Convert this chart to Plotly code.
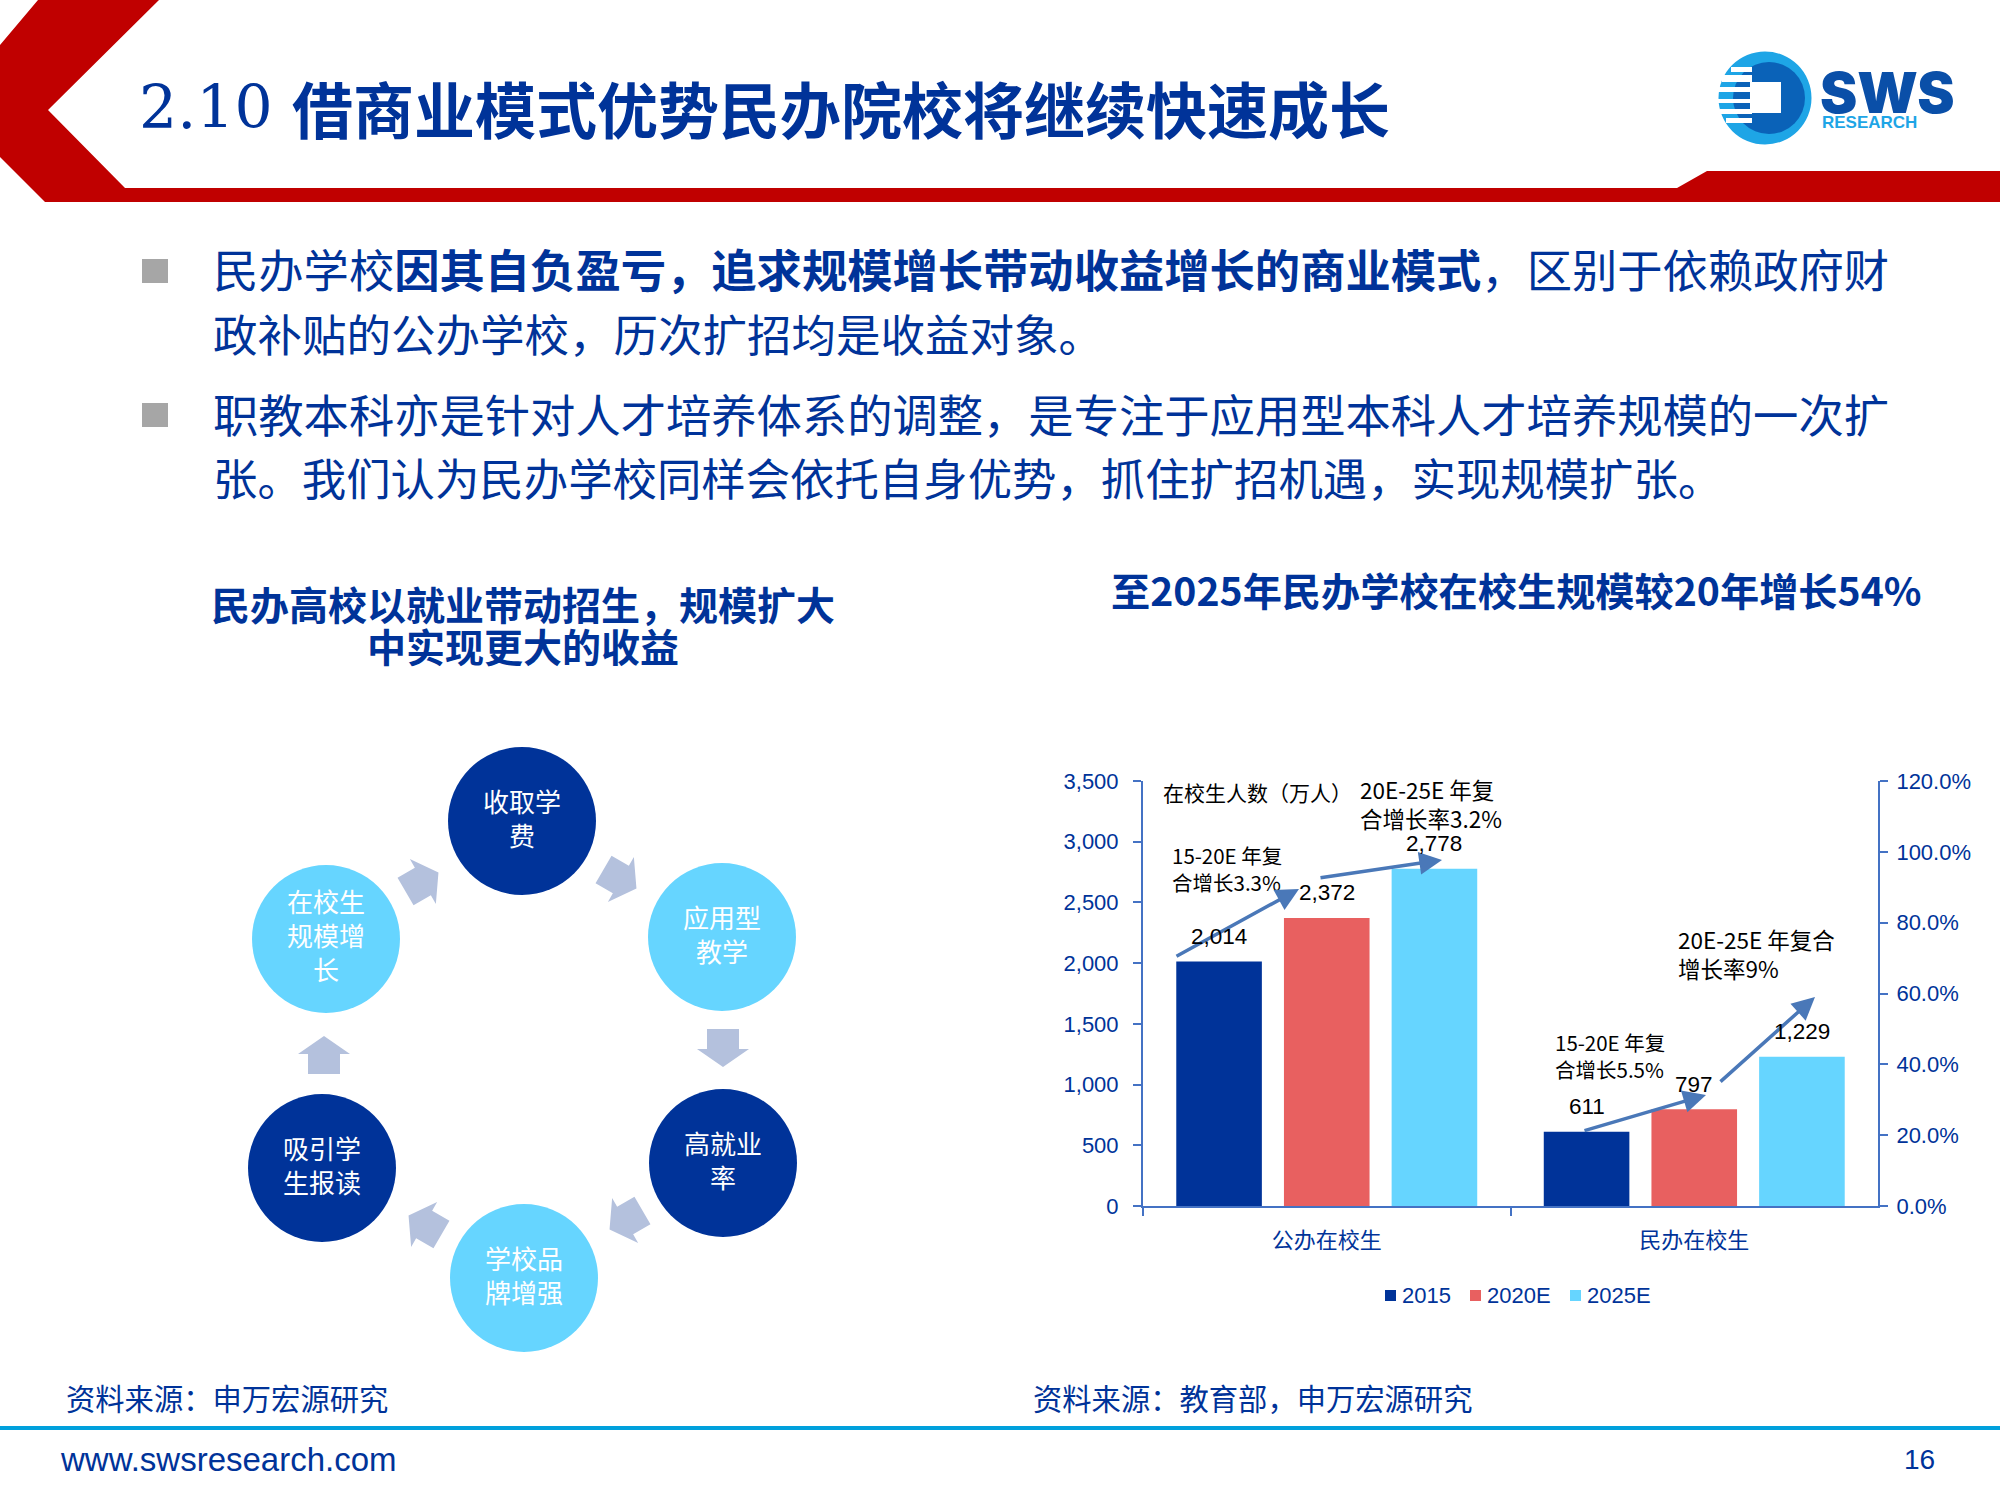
import math
import plotly.graph_objects as go

W, H = 2000, 1500
NAVY = "#003399"
CJK = "Noto Sans CJK SC"
LATIN = "Liberation Sans, Noto Sans CJK SC"

# chart data
categories = ["公办在校生", "民办在校生"]
years = ["2015", "2020E", "2025E"]
students_2015 = [2014, 611]
students_2020 = [2372, 797]
students_2025 = [2778, 1229]
bar_colors = ["#003399", "#E86060", "#66D5FF"]
left_ticks = [0, 500, 1000, 1500, 2000, 2500, 3000, 3500]
right_ticks = [0, 0.2, 0.4, 0.6, 0.8, 1.0, 1.2]

# cycle diagram
node_labels = ["收取学<br>费", "应用型<br>教学", "高就业<br>率", "学校品<br>牌增强", "吸引学<br>生报读", "在校生<br>规模增<br>长"]
node_colors = ["#003399", "#66D5FF", "#003399", "#66D5FF", "#003399", "#66D5FF"]
node_x = [522, 722, 723, 524, 322, 326]
node_y = [821, 937, 1163, 1278, 1168, 939]
arrow_x = [620, 723, 626, 425, 324, 422]
arrow_y = [879, 1048, 1220, 1225, 1055, 882]
arrow_deg = [30, 90, 150, 210, 270, 330]

# legend swatch and text positions on the page
legend_x = [1385, 1470, 1570]


def px(x):
    return x / W


def py(y):
    return 1 - y / H


def poly(points, color):
    path = "M" + "L".join(f"{px(x):.5f},{py(y):.5f}" for x, y in points) + "Z"
    return dict(type="path", xref="paper", yref="paper", path=path, fillcolor=color, line=dict(width=0), layer="below")


def circle(cx, cy, r, color):
    return dict(type="circle", xref="paper", yref="paper", x0=px(cx - r), x1=px(cx + r), y0=py(cy + r), y1=py(cy - r),
                fillcolor=color, line=dict(width=0), layer="below")


def rect(x0, y0, x1, y1, color):
    return dict(type="rect", xref="paper", yref="paper", x0=px(x0), x1=px(x1), y0=py(y1), y1=py(y0),
                fillcolor=color, line=dict(width=0), layer="below")


def label(x, y, text, size, color="black", family=CJK, xanchor="left", align="left", weight=None):
    font = dict(size=size, color=color, family=family)
    if weight:
        font["weight"] = weight
    return dict(xref="paper", yref="paper", x=px(x), y=py(y), text=text, showarrow=False, xanchor=xanchor, yanchor="middle",
                align=align, font=font, borderpad=0, borderwidth=0)


def block_arrow(cx, cy, deg):
    # shape drawn pointing right, then turned around its centre
    outline = [(-19, -16), (1, -16), (1, -26), (19, 0), (1, 26), (1, 16), (-19, 16)]
    a = math.radians(deg)
    pts = [(cx + u * math.cos(a) - v * math.sin(a), cy + u * math.sin(a) + v * math.cos(a)) for u, v in outline]
    return poly(pts, "#B4C1DD")


def trend_arrow(x0, y0, x1, y1):
    return dict(xref="paper", yref="paper", x=px(x1), y=py(y1), ax=x0 - x1, ay=y0 - y1, axref="pixel", ayref="pixel",
                text="", showarrow=True, arrowhead=2, arrowsize=1.3, arrowwidth=3.5, arrowcolor="#4A78B8")


fig = go.Figure()
for year, values, color in zip(years, [students_2015, students_2020, students_2025], bar_colors):
    fig.add_trace(go.Bar(x=categories, y=values, name=year, marker_color=color, marker_line_width=0, showlegend=False))

# keeps the empty percentage axis on the page
fig.add_trace(go.Scatter(x=categories, y=[None, None], yaxis="y2", showlegend=False, hoverinfo="skip"))

shapes = [
    poly([(38, 0), (159, 0), (48, 110), (125, 188), (1677, 188), (1707, 171), (2000, 171), (2000, 202), (45, 202), (0, 157), (0, 45)], "#C00000"),
    rect(0, 1426, 2000, 1430, "#00A0DC"),
    rect(142, 259, 168, 283, "#A6A6A6"),
    rect(142, 403, 168, 427, "#A6A6A6"),
    # logo
    circle(1765, 98, 46.5, "#1EA5E6"),
    circle(1769, 98, 36, "#0A62B8"),
]
for y0, y1, x0 in [(67, 72, 1731), (75, 82, 1722), (87, 92, 1718), (99, 103, 1718), (109, 114, 1720), (118, 123, 1726)]:
    shapes.append(rect(x0, y0, 1752, y1, "#FFFFFF"))
shapes.append(rect(1750, 82, 1781, 113, "#FFFFFF"))

for cx, cy, color in zip(node_x, node_y, node_colors):
    shapes.append(circle(cx, cy, 74, color))
for cx, cy, deg in zip(arrow_x, arrow_y, arrow_deg):
    shapes.append(block_arrow(cx, cy, deg))
for x0, color in zip(legend_x, bar_colors):
    shapes.append(rect(x0, 1290, x0 + 11, 1301, color))

annotations = [
    label(139, 107, "2.10", 60, NAVY, "DejaVu Serif"),
    label(292, 107, "<b>借商业模式优势民办院校将继续快速成长</b>", 61, NAVY),
    label(1820, 93, "SWS", 56, "#0A4FA8", "Inter", weight=900),
    label(1822, 123, "<b>RESEARCH</b>", 17, "#1EA5E6", "Liberation Sans"),
    label(213, 268, "民办学校<b>因其自负盈亏，追求规模增长带动收益增长的商业模式</b>，区别于依赖政府财", 45.3, NAVY),
    label(213, 333, "政补贴的公办学校，历次扩招均是收益对象。", 44.5, NAVY),
    label(213, 413, "职教本科亦是针对人才培养体系的调整，是专注于应用型本科人才培养规模的一次扩", 45.3, NAVY),
    label(213, 476, "张。我们认为民办学校同样会依托自身优势，抓住扩招机遇，实现规模扩张。", 44.4, NAVY),
    label(523, 603, "<b>民办高校以就业带动招生，规模扩大</b>", 39, NAVY, xanchor="center", align="center"),
    label(523, 645, "<b>中实现更大的收益</b>", 39, NAVY, xanchor="center", align="center"),
    label(1111, 589, "<b>至2025年民办学校在校生规模较20年增长54%</b>", 39.2, NAVY),
    label(66, 1397, "资料来源：申万宏源研究", 29.3, NAVY),
    label(1033, 1397, "资料来源：教育部，申万宏源研究", 29.3, NAVY),
    label(60, 1459, "www.swsresearch.com", 33, NAVY, LATIN),
    label(1904, 1459, "16", 28, NAVY, LATIN),
    # notes on the chart
    label(1163, 792, "在校生人数（万人）", 21, family="Noto Sans CJK SC"),
    label(1360, 803, "20E-25E 年复<br>合增长率3.2%", 22.5),
    label(1172, 868, "15-20E 年复<br>合增长3.3%", 20.5),
    label(1555, 1055, "15-20E 年复<br>合增长5.5%", 20.5),
    label(1678, 953, "20E-25E 年复合<br>增长率9%", 22.5),
    trend_arrow(1175, 957, 1299, 889),
    trend_arrow(1319, 878, 1442, 860),
    trend_arrow(1583, 1131, 1706, 1095),
    trend_arrow(1719, 1083, 1815, 997),
]
for cx, cy, text in zip(node_x, node_y, node_labels):
    annotations.append(label(cx, cy - 4, text, 26, "white", xanchor="center", align="center"))
for x0, year in zip(legend_x, years):
    annotations.append(label(x0 + 17, 1295, year, 22, NAVY, LATIN))

# value labels sit on the bars, one group slot apart
for i, values in enumerate([students_2015, students_2020, students_2025]):
    for cat, v in zip(categories, values):
        annotations.append(dict(xref="x", yref="y", x=cat, y=v, xshift=(i - 1) * 107.7, yshift=25, text=f"{v:,}", showarrow=False,
                                yanchor="middle", font=dict(size=22.5, color="black", family=LATIN)))

axis_line = dict(showline=True, linecolor="#4472C4", linewidth=2, ticks="outside", ticklen=8, tickwidth=2, tickcolor="#4472C4",
                 showgrid=False, zeroline=False, tickfont=dict(size=22, color=NAVY, family=LATIN))

fig.update_layout(
    width=W,
    height=H,
    margin=dict(l=0, r=0, t=0, b=0, autoexpand=False),
    plot_bgcolor="white",
    paper_bgcolor="white",
    barmode="group",
    bargap=0.121,
    bargroupgap=0.205,
    xaxis=dict(domain=[px(1143), px(1878)], tickson="boundaries", ticklabelstandoff=14, anchor="y", **axis_line),
    yaxis=dict(domain=[py(1206), py(781)], range=[0, 3500], tickvals=left_ticks, tickformat=",", ticklabelstandoff=10, **axis_line),
    yaxis2=dict(overlaying="y", side="right", anchor="x", range=[0, 1.2], tickvals=right_ticks, tickformat=".1%", ticklabelstandoff=4, **axis_line),
    showlegend=False,
    shapes=shapes,
    annotations=annotations,
)

fig.write_html("out.html", config=dict(displayModeBar=False), post_script="document.body.style.margin='0';")
